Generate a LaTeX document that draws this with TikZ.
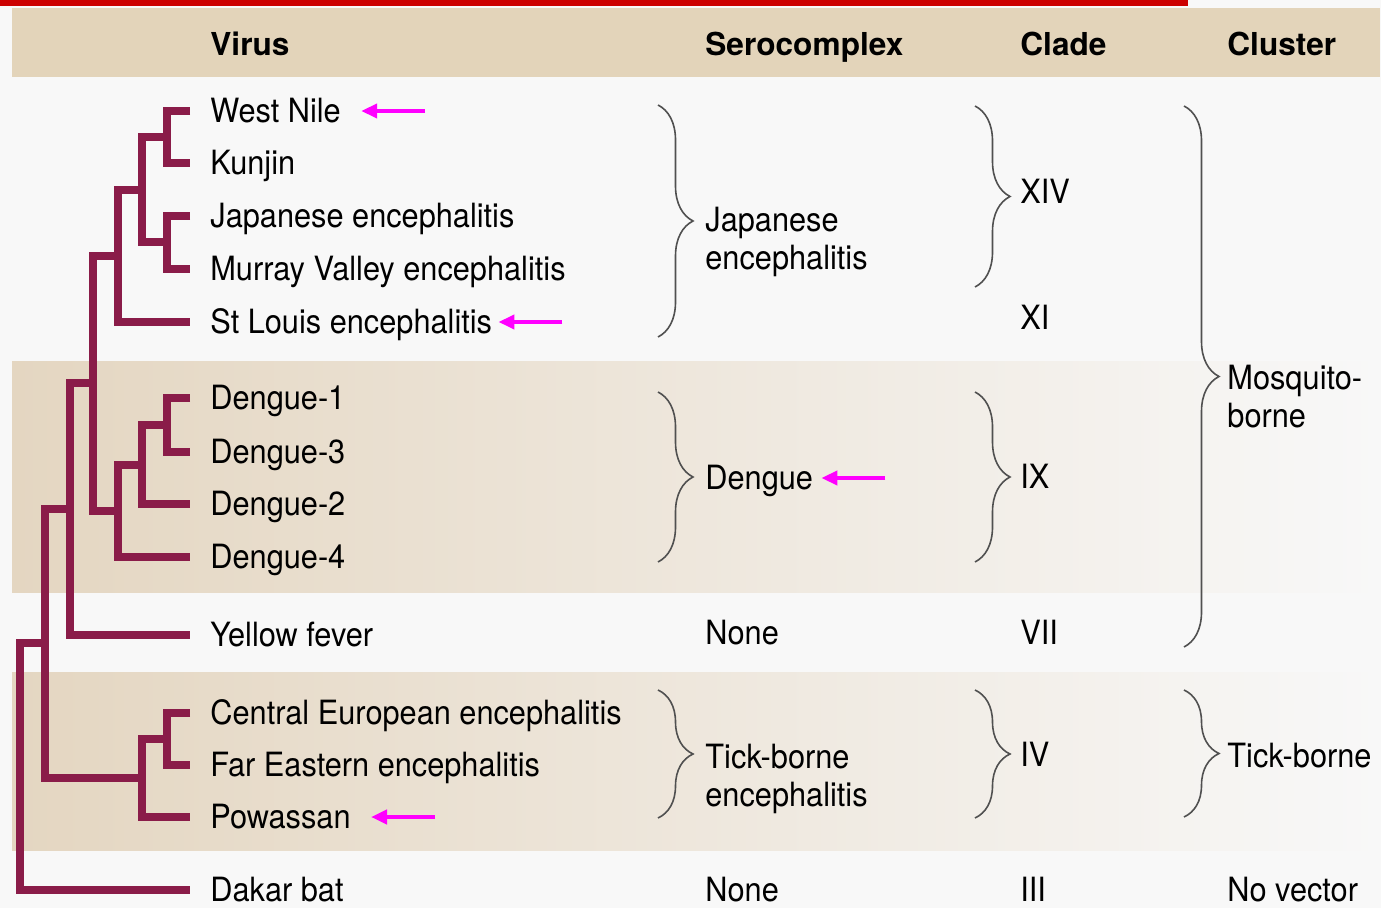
\documentclass[tikz,border=0pt]{standalone}
\usepackage{fontspec}
\setmainfont{TeX Gyre Heros}[FakeStretch=0.92]
\newfontfamily\headfont{TeX Gyre Heros}
\usepackage{xcolor}
\usetikzlibrary{arrows.meta,positioning,decorations.pathreplacing}
\definecolor{bgcol}{RGB}{248,248,248}
\definecolor{headtan}{RGB}{227,212,186}
\definecolor{bandtan}{RGB}{228,214,193}
\definecolor{treecol}{RGB}{138,28,73}
\definecolor{bracecol}{RGB}{80,80,80}
\definecolor{topred}{RGB}{204,0,0}
\definecolor{hlmag}{RGB}{255,0,255}

\begin{document}
\begin{tikzpicture}[x=0.5pt, y=-0.5pt, font=\fontsize{16.7}{19}\selectfont,
  leaf/.style={anchor=west, inner sep=0pt, inner xsep=10pt, text height=11.9pt, text depth=0pt},
  lbl/.style={anchor=west, inner sep=0pt, text height=11.9pt, text depth=0pt},
  lbltwo/.style={anchor=north west, inner sep=0pt, align=left},
  head/.style={anchor=west, inner sep=0pt, font=\headfont\bfseries\fontsize{15.8}{18}\selectfont, text height=11.4pt, text depth=0pt},
  branch/.style={draw=treecol, line width=3.6pt, line join=miter},
  curly/.style={draw=bracecol, line width=0.8pt, decorate, decoration={brace, amplitude=17.5pt}},
  hl/.style={draw=hlmag, line width=2pt, -{Triangle[length=8pt, width=7pt]}}]
\useasboundingbox (0,0) rectangle (1381,908);
% background and bands
\fill[bgcol] (0,0) rectangle (1381,908);
\fill[topred] (0,0) rectangle (1188,6);
\fill[headtan] (12,8) rectangle (1380,77);
\shade[left color=bandtan, right color=bgcol] (12,362) rectangle (1380,593);
\shade[left color=bandtan, right color=bgcol] (12,672) rectangle (1380,850);

% header
\node[head] (hvir) at (210,44) {Virus};
\node[head] (hser) at (705,44) {Serocomplex};
\node[head] (hcla) at (1020,44) {Clade};
\node[head] (hclu) at (1227,44) {Cluster};

% leaves
\node[leaf] (wn) at (190,111) {West Nile};
\node[leaf] (ku) at (190,163) {Kunjin};
\node[leaf] (je) at (190,216) {Japanese encephalitis};
\node[leaf] (mve) at (190,269) {Murray Valley encephalitis};
\node[leaf] (sle) at (190,322) {St Louis encephalitis};
\node[leaf] (d1) at (190,398) {Dengue-1};
\node[leaf] (d3) at (190,452) {Dengue-3};
\node[leaf] (d2) at (190,504) {Dengue-2};
\node[leaf] (d4) at (190,557) {Dengue-4};
\node[leaf] (yf) at (190,635) {Yellow fever};
\node[leaf] (cee) at (190,713) {Central European encephalitis};
\node[leaf] (fee) at (190,765) {Far Eastern encephalitis};
\node[leaf] (pow) at (190,817) {Powassan};
\node[leaf] (dak) at (190,890) {Dakar bat};

% tree
\coordinate (wnku) at (167,137);
\coordinate (jemv) at (167,242);
\coordinate (jeg) at (142,190);
\coordinate (jesl) at (118,256);
\coordinate (d13) at (167,425);
\coordinate (d132) at (142,465);
\coordinate (dall) at (118,511);
\coordinate (mosq) at (93,383);
\coordinate (mosyf) at (70,509);
\coordinate (tbe) at (167,739);
\coordinate (tbpow) at (142,778);
\coordinate (vec) at (45,643);
\coordinate (root) at (20,643);
\draw[branch] (wn.west) -| (wnku) |- (ku.west);
\draw[branch] (je.west) -| (jemv) |- (mve.west);
\draw[branch] (wnku) -| (jeg) |- (jemv);
\draw[branch] (jeg) -| (jesl) |- (sle.west);
\draw[branch] (d1.west) -| (d13) |- (d3.west);
\draw[branch] (d13) -| (d132) |- (d2.west);
\draw[branch] (d132) -| (dall) |- (d4.west);
\draw[branch] (jesl) -| (mosq) |- (dall);
\draw[branch] (mosq) -| (mosyf) |- (yf.west);
\draw[branch] (cee.west) -| (tbe) |- (fee.west);
\draw[branch] (tbe) -| (tbpow) |- (pow.west);
\draw[branch] (mosyf) -| (vec) |- (tbpow);
\draw[branch] (vec) -- (root) |- (dak.west);

% serocomplex
\node[lbltwo] (sje) at (705,207) {Japanese\\encephalitis};
\node[lbl] (sde) at (705,478) {Dengue};
\node[lbl] (syf) at (705,633) {None};
\node[lbltwo] (stb) at (705,744) {Tick-borne\\encephalitis};
\node[lbl] (sdk) at (705,890) {None};
\draw[curly] (658,105) -- (658,337);
\draw[curly] (658,392) -- (658,562);
\draw[curly] (658,690) -- (658,818);

% clade
\node[lbl] (cxiv) at (1020,192) {XIV};
\node[lbl] (cxi) at (1020,318) {XI};
\node[lbl] (cix) at (1020,477) {IX};
\node[lbl] (cvii) at (1020,633) {VII};
\node[lbl] (civ) at (1020,755) {IV};
\node[lbl] (ciii) at (1020,890) {III};
\draw[curly] (975,106) -- (975,287);
\draw[curly] (975,392) -- (975,562);
\draw[curly] (975,690) -- (975,818);

% cluster
\node[lbltwo] (kmo) at (1227,365) {Mosquito-\\borne};
\node[lbl] (ktb) at (1227,756) {Tick-borne};
\node[lbl] (knv) at (1227,890) {No vector};
\draw[curly] (1184,106) -- (1184,647);
\draw[curly] (1184,690) -- (1184,817);

% highlights
\draw[hl] ([xshift=32pt]wn.east) -- (wn.east);
\draw[hl] ([xshift=25pt]sle.east) -- ([xshift=-7pt]sle.east);
\draw[hl] ([xshift=36pt]sde.east) -- ([xshift=4pt]sde.east);
\draw[hl] ([xshift=32pt]pow.east) -- (pow.east);
\end{tikzpicture}
\end{document}
